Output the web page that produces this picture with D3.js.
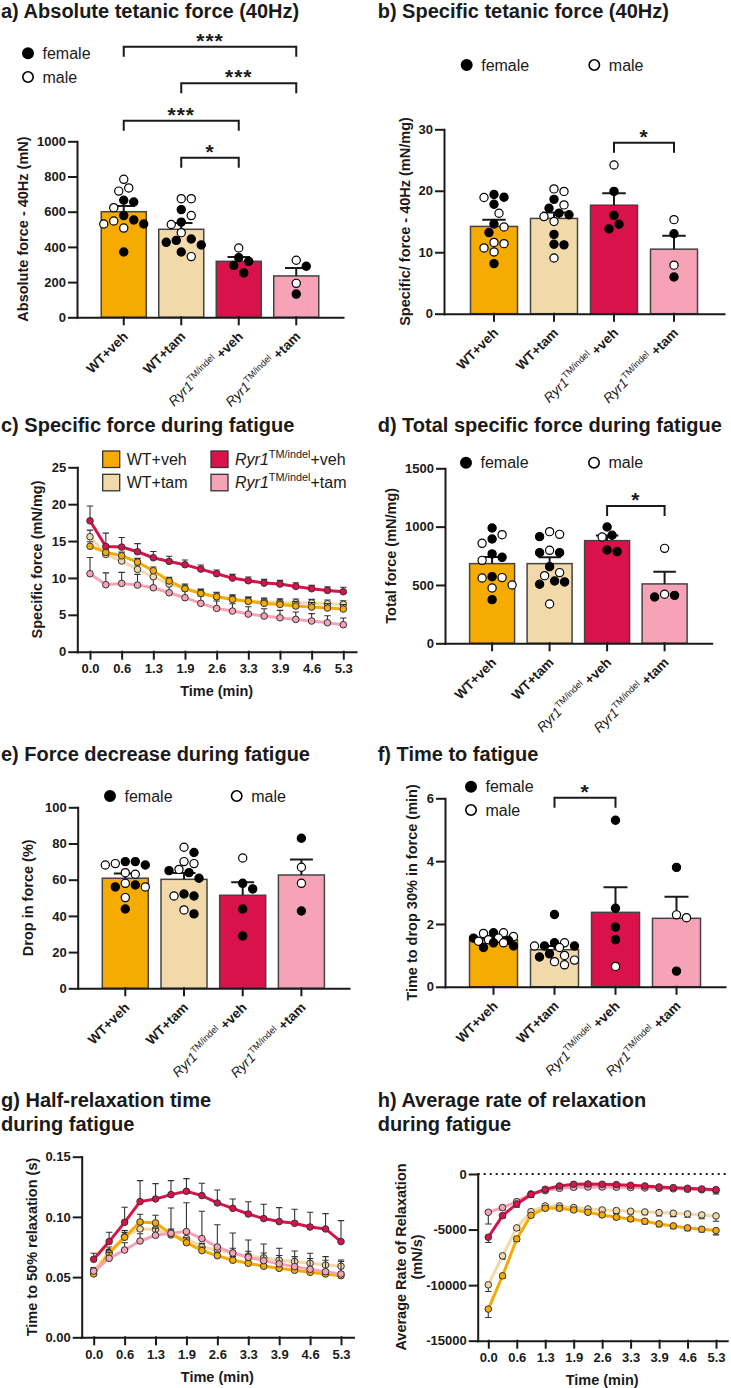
<!DOCTYPE html>
<html><head><meta charset="utf-8">
<script src="https://cdn.jsdelivr.net/npm/d3@7"></script>
<style>
body{margin:0;background:#fff;}
svg{font-family:"Liberation Sans",Arial,Helvetica,sans-serif;}
</style></head><body>
<svg id="fig" width="731" height="1388"></svg>
<script>
// ---------------- DATA ----------------
const groups = ["WT+veh","WT+tam","Ryr1+veh","Ryr1+tam"];

// a) Absolute tetanic force (mN)
const absMean = [600, 500, 318, 235];
const absSem  = [33, 36, 25, 45];
const absFemale = [[665,655,553,530,578,371],[612,541,426,411,437,445,371],[318,339,295,252],[290,132]];
const absMale   = [[784,717,735,623,530,547,507],[674,674,578,527,481,345],[394],[324,193]];

// b) Specific tetanic force (mN/mg)
const specMean = [14.2, 15.5, 17.65, 10.5];
const specSem  = [1.1, 0.95, 1.95, 2.2];
const specFemale = [[19.4,18.95,17.8,14.6,13.2,8.15],[18.6,17.15,16.1,16.35,12.9,11.3,11.2],[19.9,16.0,13.8,14.55],[13.0,5.97]];
const specMale   = [[18.9,16.35,14.1,11.4,11.6,10.05,10.7],[19.9,20.3,17.7,15.8,15.0,9.07],[24.2],[15.3,7.9]];

// d) Total specific force (mN/mg)
const totMean = [683, 683, 880, 509];
const totSem  = [57, 54, 43, 105];
const totFemale = [[988,894,737,766,571,374],[914,777,777,657,534,506,526],[997,926,786,800],[397,411]];
const totMale   = [[931,857,711,560,563,474,500],[934,957,797,606,580,337],[911],[814,420]];

// e) Drop in force (%)
const dropMean = [60.8, 60.2, 51.4, 62.6];
const dropSem  = [2.6, 3.5, 7.2, 8.5];
const dropFemale = [[70,68.1,70,56,57.1,43.8],[75,65,63.9,60.8,51,52.1,41.1],[54.9,58,43.8,28.9],[82.9,42.7]];
const dropMale   = [[68.1,68.9,63.9,63,58,56,50.1],[68.9,77.9,70,65.7,51,43.3],[72],[66.9,58]];

// f) Time to drop 30% in force (min)
const ttfMean = [1.5, 1.18, 2.37, 2.18];
const ttfSem  = [0.05, 0.12, 0.8, 0.69];
const ttfFemale = [[1.72,1.55,1.48,1.40,1.30,1.25],[2.3,1.3,1.3,1.4,0.95,1.05],[5.3,2.5,1.9,1.5],[3.8,0.5]];
const ttfMale   = [[1.72,1.70,1.60,1.55,1.50,1.45,1.40],[1.4,1.25,1.3,1.0,0.85,0.8,0.7],[0.65],[2.29,2.2]];

// time course
const timePoints = ["0.0","0.3","0.6","1.0","1.3","1.6","1.9","2.3","2.6","3.0","3.3","3.6","3.9","4.3","4.6","4.9","5.3"];
const timeTicks  = ["0.0","0.6","1.3","1.9","2.6","3.3","3.9","4.6","5.3"];

// c) Specific force during fatigue (mN/mg)
const cWTveh = [14.3,13.46,13.0,12.15,10.98,9.58,8.54,7.9,7.45,7.09,6.82,6.55,6.41,6.19,6.05,5.92,5.78];
const cWTtam = [15.58,13.19,12.29,11.16,10.16,9.17,8.58,7.99,7.45,7.18,6.87,6.78,6.68,6.64,6.6,6.5,6.41];
const cRveh  = [17.75,14.27,14.18,13.55,12.74,12.24,11.79,11.2,10.57,9.98,9.62,9.3,9.17,8.85,8.54,8.31,8.13];
const cRtam  = [10.57,9.08,9.26,9.03,8.67,7.99,7.32,6.55,5.87,5.51,5.1,4.83,4.6,4.38,4.16,3.93,3.66];
const cWTvehErr = [0.6,0.5,0.5,0.5,0.5,0.5,0.5,0.5,0.6,0.6,0.6,0.6,0.6,0.6,0.6,0.6,0.6];
const cWTtamErr = [0.9,0.6,0.6,0.6,0.6,0.6,0.6,0.5,0.5,0.5,0.5,0.5,0.5,0.5,0.5,0.5,0.5];
const cRvehErr  = [2.0,1.8,1.3,1.1,0.85,0.7,0.65,0.55,0.5,0.5,0.5,0.5,0.5,0.5,0.45,0.5,0.6];
const cRtamErr  = [2.2,1.6,1.5,1.45,1.3,1.2,1.1,1.0,1.0,1.0,1.0,1.0,1.0,1.0,1.0,0.95,0.9];

// g) Half-relaxation time (s)
const gWTveh = [0.0526,0.0698,0.0831,0.0958,0.095,0.086,0.0786,0.072,0.0678,0.064,0.0615,0.059,0.0573,0.0557,0.054,0.0526,0.0512];
const gWTtam = [0.0554,0.071,0.0836,0.090,0.0897,0.085,0.082,0.075,0.0725,0.070,0.0675,0.066,0.064,0.063,0.0615,0.060,0.059];
const gRveh  = [0.0648,0.0795,0.0955,0.1127,0.1149,0.1185,0.1213,0.1177,0.1116,0.1071,0.1024,0.0986,0.0961,0.0947,0.0916,0.0900,0.0795];
const gRtam  = [0.055,0.0656,0.0725,0.080,0.0847,0.0864,0.0878,0.082,0.075,0.070,0.0664,0.0637,0.061,0.0587,0.0565,0.0545,0.0526];
const gWTvehErr = [0.002,0.003,0.004,0.0064,0.0064,0.004,0.004,0.003,0.003,0.003,0.003,0.003,0.003,0.003,0.003,0.003,0.003];
const gWTtamErr = [0.002,0.004,0.005,0.006,0.005,0.004,0.004,0.003,0.003,0.004,0.004,0.004,0.004,0.004,0.004,0.004,0.004];
const gRvehErr  = [0.005,0.0078,0.0125,0.0174,0.0127,0.0116,0.0105,0.0102,0.0108,0.0078,0.0102,0.0119,0.0116,0.0116,0.0122,0.0127,0.0174];
const gRtamErr  = [0.003,0.005,0.006,0.006,0.006,0.021,0.024,0.0227,0.0185,0.0166,0.0144,0.0138,0.013,0.013,0.0133,0.0125,0.0116];

// h) Average rate of relaxation (mN/s)
const hWTveh = [-12156,-9162,-5838,-3713,-3084,-3084,-3234,-3443,-3683,-3892,-4042,-4252,-4491,-4671,-4850,-4970,-5090];
const hWTtam = [-9970,-7365,-4850,-3383,-2874,-2874,-3024,-3144,-3234,-3293,-3353,-3413,-3473,-3533,-3593,-3683,-3772];
const hRveh  = [-5689,-3743,-2695,-1856,-1377,-1078,-928,-898,-928,-958,-1018,-1078,-1168,-1228,-1287,-1347,-1407];
const hRtam  = [-3443,-3024,-2485,-1796,-1497,-1287,-1198,-1170,-1170,-1190,-1220,-1250,-1290,-1330,-1380,-1420,-1470];
const hWTvehErr = [750,210,240,200,150,150,150,150,150,200,200,250,250,250,250,250,390];
const hWTtamErr = [600,300,240,200,150,150,200,200,200,250,250,250,300,300,300,350,480];
const hRvehErr  = [480,240,300,250,200,180,150,150,150,150,150,150,150,150,180,200,390];
const hRtamErr  = [1050,210,150,200,150,150,150,150,150,150,150,150,150,150,150,150,200];

// ---------------- STYLE ----------------
const colors = {"WT+veh":"#F5AB00","WT+tam":"#F1D9A9","Ryr1+veh":"#D9124C","Ryr1+tam":"#F6A3B7"};
const ink = "#1a1a1a";
const svg = d3.select("#fig");

function title(x, y, lines) {
  const t = svg.append("text").attr("x", x).attr("y", y)
    .attr("font-size", 20).attr("font-weight", "bold").attr("fill", ink);
  lines.forEach((l, i) => t.append("tspan").attr("x", x).attr("dy", i ? 23.4 : 0).text(l));
}
function yTitle(x, cy, lines) {
  const t = svg.append("text").attr("transform", `translate(${x},${cy}) rotate(-90)`)
    .attr("text-anchor", "middle").attr("font-size", 14.5).attr("font-weight", "bold").attr("fill", ink);
  lines.forEach((l, i) => t.append("tspan").attr("x", 0).attr("dy", i ? 16 : 0).text(l));
}
function xTitle(cx, y, txt) {
  svg.append("text").attr("x", cx).attr("y", y).attr("text-anchor", "middle")
    .attr("font-size", 14.5).attr("font-weight", "bold").attr("fill", ink).text(txt);
}
function styleAxis(g) {
  g.attr("font-family", null).attr("font-size", 13).attr("font-weight", "bold");
  g.selectAll("path,line").attr("stroke", ink).attr("stroke-width", 2).attr("stroke-linecap", "square");
  g.selectAll("text").attr("fill", ink);
}
function groupLabel(sel, key, size, boldTail, space) {
  const [base, tail] = key.split("+");
  if (base === "WT") {
    sel.append("tspan").attr("font-weight", boldTail ? "bold" : "normal").text("WT+" + tail);
  } else {
    sel.append("tspan").attr("font-style", "italic").attr("font-weight", "normal").text("Ryr1");
    sel.append("tspan").attr("font-size", size * 0.68).attr("dy", -size * 0.42).attr("font-weight", "normal").text("TM/indel");
    sel.append("tspan").attr("dy", size * 0.42).attr("font-weight", boldTail ? "bold" : "normal").text((space ? " +" : "+") + tail);
  }
}
function dotLegend(items) {
  items.forEach(it => {
    svg.append("circle").attr("cx", it.x).attr("cy", it.y).attr("r", 5.2)
      .attr("fill", it.f ? "#000" : "#fff").attr("stroke", "#000").attr("stroke-width", 1.6);
    svg.append("text").attr("x", it.x + 14.5).attr("y", it.y).attr("dy", "0.35em")
      .attr("font-size", 16).attr("fill", ink).text(it.f ? "female" : "male");
  });
}

// beeswarm inside the bar width
function swarm(pts, yScale, cx, maxOff) {
  const minD = 9.2, s = 5, placed = [];
  const kMax = 2 * Math.floor(maxOff / s);
  pts.slice().sort((a, b) => b.v - a.v).forEach(p => {
    const py = yScale(p.v);
    let best = 0, bestD = -1;
    for (let k = 0; k <= kMax; k++) {
      const off = k === 0 ? 0 : (k % 2 ? 1 : -1) * Math.ceil(k / 2) * s;
      let d = Infinity;
      placed.forEach(q => { d = Math.min(d, Math.hypot(q.x - (cx + off), q.y - py)); });
      if (d >= minD) { best = off; bestD = d; break; }
      if (d > bestD) { bestD = d; best = off; }
    }
    placed.push({x: cx + best, y: py, f: p.f});
  });
  return placed;
}

function barPanel(cfg) {
  const y = d3.scaleLinear().domain(cfg.domain).range([cfg.bottom, cfg.top]);
  const W = cfg.right - cfg.left;
  const p = 1 - cfg.bw / cfg.step;
  const po = (W / cfg.step - 4 + p) / 2;
  const x = d3.scaleBand().domain(groups).range([cfg.left, cfg.right]).paddingInner(p).paddingOuter(po);
  const g = svg.append("g");
  g.selectAll("rect").data(groups).join("rect")
    .attr("x", d => x(d)).attr("width", x.bandwidth())
    .attr("y", (d, i) => y(cfg.mean[i])).attr("height", (d, i) => y(0) - y(cfg.mean[i]))
    .attr("fill", d => colors[d]).attr("stroke", "#444").attr("stroke-width", 1.5);
  groups.forEach((d, i) => {
    const cx = x(d) + x.bandwidth() / 2, cw = x.bandwidth() / 4;
    const y1 = y(cfg.mean[i]), y2 = y(cfg.mean[i] + cfg.sem[i]);
    g.append("path").attr("d", `M${cx},${y1}V${y2}M${cx - cw},${y2}H${cx + cw}`)
      .attr("stroke", ink).attr("stroke-width", 2).attr("fill", "none");
  });
  groups.forEach((d, i) => {
    const cx = x(d) + x.bandwidth() / 2;
    const pts = cfg.female[i].map(v => ({v, f: true})).concat(cfg.male[i].map(v => ({v, f: false})));
    swarm(pts, y, cx, x.bandwidth() / 2 - 2.5).forEach(q => {
      g.append("circle").attr("cx", q.x).attr("cy", q.y).attr("r", 4.1)
        .attr("fill", q.f ? "#000" : "#fff").attr("stroke", "#000").attr("stroke-width", 1.2);
    });
  });
  const ya = svg.append("g").attr("transform", `translate(${cfg.left},0)`)
    .call(d3.axisLeft(y).tickValues(cfg.ticks).tickFormat(d3.format("d")).tickSize(8).tickPadding(3).tickSizeOuter(0));
  styleAxis(ya);
  const xa = svg.append("g").attr("transform", `translate(0,${cfg.bottom})`)
    .call(d3.axisBottom(x).tickSize(7).tickSizeOuter(0));
  xa.selectAll("text").remove();
  styleAxis(xa);
  groups.forEach(d => {
    const cx = x(d) + x.bandwidth() / 2;
    const t = svg.append("text").attr("transform", `translate(${cx + 5},${cfg.bottom + 20}) rotate(-45)`)
      .attr("text-anchor", "end").attr("font-size", 13.5).attr("fill", ink);
    groupLabel(t, d, 13.5, true, true);
  });
  (cfg.brackets || []).forEach(b => {
    const x1 = x(groups[b[0]]) + x.bandwidth() / 2, x2 = x(groups[b[1]]) + x.bandwidth() / 2;
    const yt = b[3];
    svg.append("path").attr("d", `M${x1},${yt + 10}V${yt}H${x2}V${yt + 10}`)
      .attr("fill", "none").attr("stroke", ink).attr("stroke-width", 2);
    svg.append("text").attr("x", (x1 + x2) / 2).attr("y", yt + 1).attr("text-anchor", "middle")
      .attr("font-size", 21).attr("font-weight", "bold").attr("letter-spacing", 1).attr("fill", ink).text(b[2]);
  });
}

function linePanel(cfg) {
  const x = d3.scalePoint().domain(timePoints).range([cfg.x0, cfg.x1]);
  const y = d3.scaleLinear().domain(cfg.domain).range([cfg.bottom, cfg.top]);
  if (cfg.zeroLine) {
    svg.append("line").attr("x1", cfg.left).attr("x2", cfg.right).attr("y1", y(0)).attr("y2", y(0))
      .attr("stroke", ink).attr("stroke-width", 2).attr("stroke-dasharray", "2,4");
  }
  cfg.series.forEach(s => {
    const g = svg.append("g");
    s.v.forEach((v, i) => {
      const cx = x(timePoints[i]);
      const y1 = y(v), y2 = y(v + Math.sign(v) * s.e[i]);
      g.append("path").attr("d", `M${cx},${y1}V${y2}M${cx - 3.2},${y2}H${cx + 3.2}`)
        .attr("stroke", "#333").attr("stroke-width", 1.1).attr("fill", "none");
    });
    g.append("path").datum(s.v)
      .attr("d", d3.line().x((v, i) => x(timePoints[i])).y(v => y(v)))
      .attr("fill", "none").attr("stroke", colors[s.k]).attr("stroke-width", 3);
    g.selectAll("circle").data(s.v).join("circle")
      .attr("cx", (v, i) => x(timePoints[i])).attr("cy", v => y(v)).attr("r", 3.3)
      .attr("fill", colors[s.k]).attr("stroke", "#333").attr("stroke-width", 1);
  });
  const ya = svg.append("g").attr("transform", `translate(${cfg.left},0)`)
    .call(d3.axisLeft(y).tickValues(cfg.ticks).tickFormat(cfg.fmt).tickSize(8).tickPadding(3).tickSizeOuter(0));
  styleAxis(ya);
  const xa = svg.append("g").attr("transform", `translate(0,${cfg.bottom})`)
    .call(d3.axisBottom(x).tickValues(timeTicks).tickSize(7).tickPadding(5));
  xa.select(".domain").remove();
  styleAxis(xa);
  svg.append("line").attr("x1", cfg.left).attr("x2", cfg.right).attr("y1", cfg.bottom + 0.5).attr("y2", cfg.bottom + 0.5)
    .attr("stroke", ink).attr("stroke-width", 2).attr("stroke-linecap", "square");
  xTitle((cfg.x0 + cfg.x1) / 2, cfg.bottom + 44.5, "Time (min)");
}

// ---------------- PANELS ----------------
title(1, 18, ["a) Absolute tetanic force (40Hz)"]);
dotLegend([{x: 28, y: 53.3, f: true}, {x: 28, y: 77, f: false}]);
barPanel({left: 77, right: 343, bottom: 317.3, top: 141.3, step: 57.5, bw: 45,
  domain: [0, 1000], ticks: [0, 200, 400, 600, 800, 1000],
  mean: absMean, sem: absSem, female: absFemale, male: absMale,
  brackets: [[0, 3, "***", 46.7], [1, 3, "***", 83.3], [0, 2, "***", 120.7], [1, 2, "*", 157.7]]});
yTitle(28.3, 229, ["Absolute force - 40Hz (mN)"]);

title(377.7, 18, ["b) Specific tetanic force (40Hz)"]);
dotLegend([{x: 466.7, y: 65, f: true}, {x: 594.3, y: 65, f: false}]);
barPanel({left: 444, right: 724, bottom: 313.7, top: 129.3, step: 60, bw: 47,
  domain: [0, 30], ticks: [0, 10, 20, 30],
  mean: specMean, sem: specSem, female: specFemale, male: specMale,
  brackets: [[2, 3, "*", 142.7]]});
yTitle(410, 221.5, ["Specific/ force - 40Hz (mN/mg)"]);

title(1, 432, ["c) Specific force during fatigue"]);
linePanel({left: 77.3, right: 356.5, bottom: 651.7, top: 467.3, x0: 90, x1: 343.3,
  domain: [0, 25], ticks: [0, 5, 10, 15, 20, 25], fmt: d3.format("d"),
  series: [{k: "Ryr1+tam", v: cRtam, e: cRtamErr}, {k: "WT+tam", v: cWTtam, e: cWTtamErr},
           {k: "WT+veh", v: cWTveh, e: cWTvehErr}, {k: "Ryr1+veh", v: cRveh, e: cRvehErr}]});
yTitle(42.3, 559.5, ["Specific force (mN/mg)"]);
[["WT+veh", 102.7, 451], ["WT+tam", 102.7, 474.3], ["Ryr1+veh", 211, 451], ["Ryr1+tam", 211, 474.3]].forEach(([k, lx, ly]) => {
  svg.append("rect").attr("x", lx).attr("y", ly).attr("width", 17).attr("height", 16.5)
    .attr("fill", colors[k]).attr("stroke", "#333").attr("stroke-width", 1.3);
  const t = svg.append("text").attr("x", lx + 24).attr("y", ly + 8.3).attr("dy", "0.35em")
    .attr("font-size", 16).attr("fill", ink);
  groupLabel(t, k, 16, false, false);
});

title(377.7, 432, ["d) Total specific force during fatigue"]);
dotLegend([{x: 466, y: 462.7, f: true}, {x: 594, y: 462.7, f: false}]);
barPanel({left: 445, right: 711.7, bottom: 643.3, top: 468.3, step: 57.5, bw: 45,
  domain: [0, 1500], ticks: [0, 500, 1000, 1500],
  mean: totMean, sem: totSem, female: totFemale, male: totMale,
  brackets: [[2, 3, "*", 506]]});
yTitle(396.3, 555.8, ["Total force (mN/mg)"]);

title(1, 761, ["e) Force decrease during fatigue"]);
dotLegend([{x: 110, y: 796, f: true}, {x: 236.7, y: 796, f: false}]);
barPanel({left: 77.7, right: 349, bottom: 988.3, top: 807.3, step: 58.7, bw: 46,
  domain: [0, 100], ticks: [0, 20, 40, 60, 80, 100],
  mean: dropMean, sem: dropSem, female: dropFemale, male: dropMale, brackets: []});
yTitle(32.7, 897.8, ["Drop in force (%)"]);

title(377.7, 761, ["f) Time to fatigue"]);
dotLegend([{x: 471, y: 786.7, f: true}, {x: 471, y: 810, f: false}]);
barPanel({left: 445, right: 725, bottom: 986.8, top: 798.3, step: 61, bw: 48,
  domain: [0, 6], ticks: [0, 2, 4, 6],
  mean: ttfMean, sem: ttfSem, female: ttfFemale, male: ttfMale,
  brackets: [[1, 2, "*", 797.7]]});
yTitle(417.3, 892.5, ["Time to drop 30% in force (min)"]);

title(1, 1107.3, ["g) Half-relaxation time", "during fatigue"]);
linePanel({left: 81.7, right: 354, bottom: 1337.3, top: 1156.7, x0: 93.7, x1: 341,
  domain: [0, 0.15], ticks: [0, 0.05, 0.10, 0.15], fmt: d3.format(".2f"),
  series: [{k: "WT+tam", v: gWTtam, e: gWTtamErr}, {k: "WT+veh", v: gWTveh, e: gWTvehErr},
           {k: "Ryr1+tam", v: gRtam, e: gRtamErr}, {k: "Ryr1+veh", v: gRveh, e: gRvehErr}]});
yTitle(36.7, 1247, ["Time to 50% relaxation (s)"]);

title(377.7, 1107.3, ["h) Average rate of relaxation", "during fatigue"]);
linePanel({left: 477.7, right: 727.7, bottom: 1340.7, top: 1174, x0: 488.3, x1: 716, zeroLine: true,
  domain: [-15000, 0], ticks: [-15000, -10000, -5000, 0], fmt: d => String(d),
  series: [{k: "WT+tam", v: hWTtam, e: hWTtamErr}, {k: "WT+veh", v: hWTveh, e: hWTvehErr},
           {k: "Ryr1+tam", v: hRtam, e: hRtamErr}, {k: "Ryr1+veh", v: hRveh, e: hRvehErr}]});
yTitle(405.7, 1257, ["Average Rate of Relaxation", "(mN/s)"]);
</script>
</body></html>
